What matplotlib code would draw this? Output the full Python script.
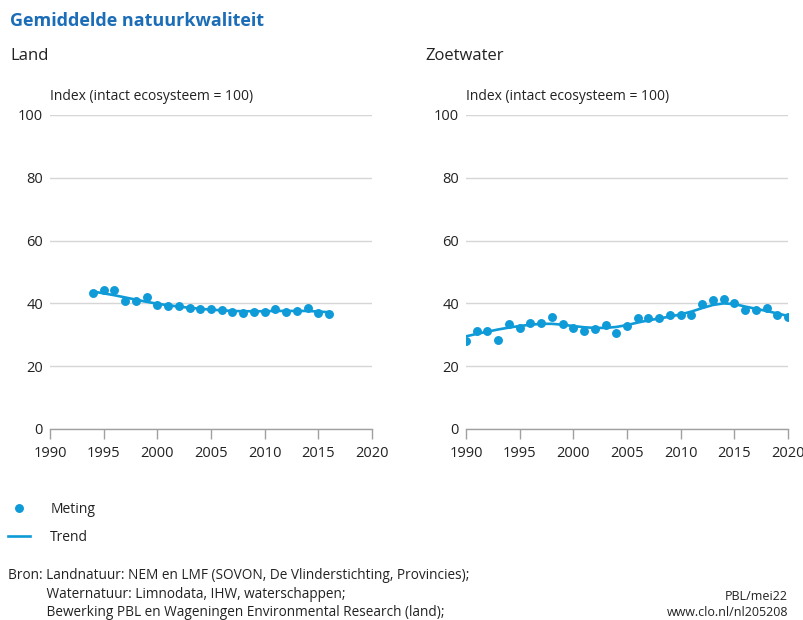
import matplotlib
matplotlib.use("Agg")
import matplotlib.pyplot as plt
import numpy as np

plt.rcParams["font.family"] = ["Open Sans", "DejaVu Sans"]

BLUE = "#0f9ad8"
TITLE_BLUE = "#1c6db8"
GRID = "#d6d6d6"
AXIS = "#a0a0a0"
TEXT = "#222222"

# Land
land_years = list(range(1994, 2017))
land_meting = [43.2, 44.3, 44.3, 40.9, 40.9, 41.9, 39.5, 39.1, 39.3, 38.6, 38.1, 38.1,
               37.8, 37.2, 37.0, 37.4, 37.3, 38.2, 37.4, 37.6, 38.5, 37.0, 36.7]
land_trend = [43.8, 43.2, 42.6, 41.9, 41.2, 40.5, 39.9, 39.4, 39.0, 38.6, 38.3, 38.0,
              37.8, 37.6, 37.5, 37.5, 37.5, 37.6, 37.6, 37.6, 37.6, 37.4, 37.2]

# Zoetwater
water_years = list(range(1990, 2021))
water_meting = [28.1, 31.3, 31.2, 28.4, 33.4, 32.2, 33.9, 33.9, 35.6, 33.3, 32.3, 31.2,
                32.0, 33.0, 30.6, 32.9, 35.2, 35.5, 35.3, 36.2, 36.3, 36.3, 39.7, 41.1,
                41.5, 40.0, 37.8, 37.8, 38.5, 36.3, 35.6]
water_trend = [29.5, 30.3, 31.0, 31.7, 32.3, 32.8, 33.2, 33.5, 33.5, 33.2, 32.8, 32.4,
               32.2, 32.2, 32.5, 33.1, 33.9, 34.6, 35.2, 35.8, 36.5, 37.4, 38.5, 39.5,
               40.0, 39.8, 39.0, 38.3, 37.6, 36.8, 36.0]

x_ticks = [1990, 1995, 2000, 2005, 2010, 2015, 2020]
y_ticks = [0, 20, 40, 60, 80, 100]

fig = plt.figure(figsize=(8.04, 6.2), dpi=100)
W, H = 804, 620


def make_axes(left_px):
    ax = fig.add_axes([left_px / W, 1 - 429 / H, 322 / W, (429 - 115) / H])
    ax.set_xlim(1990, 2020)
    ax.set_ylim(0, 100)
    ax.set_xticks(x_ticks)
    ax.set_yticks(y_ticks)
    for s in ["top", "right", "left"]:
        ax.spines[s].set_visible(False)
    ax.spines["bottom"].set_color(AXIS)
    ax.spines["bottom"].set_linewidth(1)
    ax.yaxis.grid(True, color=GRID, linewidth=1)
    ax.set_axisbelow(True)
    ax.tick_params(axis="y", length=0, pad=5, labelsize=10.5, labelcolor=TEXT)
    ax.tick_params(axis="x", length=7, width=1, color=AXIS, pad=5,
                   labelsize=10.5, labelcolor=TEXT)
    for lbl in ax.get_yticklabels():
        lbl.set_horizontalalignment("right")
    ax.text(0, 1.035, "Index (intact ecosysteem = 100)", transform=ax.transAxes,
            fontsize=10, color=TEXT, va="bottom", ha="left")
    return ax


ax1 = make_axes(50)
ax1.plot(land_years, land_trend, color=BLUE, linewidth=1.9, zorder=3)
ax1.plot(land_years, land_meting, "o", color=BLUE, markersize=5.4, zorder=4)

ax2 = make_axes(466)
tr, = ax2.plot(water_years, water_trend, color=BLUE, linewidth=1.9, zorder=3, label="Trend")
mt, = ax2.plot(water_years, water_meting, "o", color=BLUE, markersize=5.4, zorder=4, label="Meting")

fig.text(10 / W, 1 - 21 / H, "Gemiddelde natuurkwaliteit", fontsize=13,
         fontweight="bold", color=TITLE_BLUE, va="center", ha="left")
fig.text(10 / W, 1 - 56 / H, "Land", fontsize=12, color=TEXT, va="center", ha="left")
fig.text(425 / W, 1 - 56 / H, "Zoetwater", fontsize=12, color=TEXT, va="center", ha="left")

leg = fig.legend([mt, tr], ["Meting", "Trend"], loc="upper left",
                 bbox_to_anchor=(8 / W, 1 - 502 / H), frameon=False, fontsize=10,
                 handlelength=1.6, handletextpad=1.45, labelspacing=0.95,
                 borderaxespad=0, borderpad=0)
for t in leg.get_texts():
    t.set_color(TEXT)

src = ("Bron: Landnatuur: NEM en LMF (SOVON, De Vlinderstichting, Provincies);\n"
       "           Waternatuur: Limnodata, IHW, waterschappen;\n"
       "           Bewerking PBL en Wageningen Environmental Research (land);")
fig.text(8 / W, 1 - 568 / H, src, fontsize=9.8, color=TEXT, va="top", ha="left",
         linespacing=1.33)
fig.text(788 / W, 1 - 597 / H, "PBL/mei22", fontsize=9, color=TEXT, va="center", ha="right")
fig.text(788 / W, 1 - 613 / H, "www.clo.nl/nl205208", fontsize=9, color=TEXT,
         va="center", ha="right")

fig.savefig("out.png", dpi=100, facecolor="white")
